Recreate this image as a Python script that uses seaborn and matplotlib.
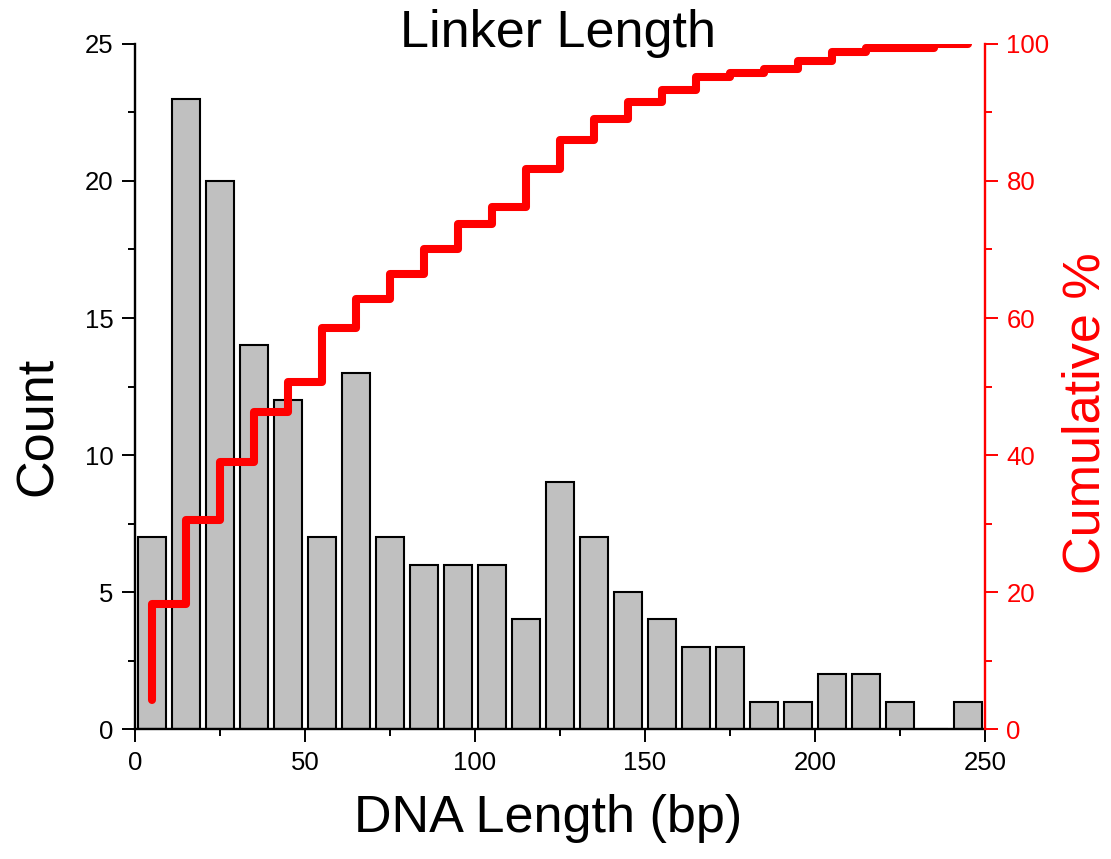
import numpy as np
import pandas as pd
import matplotlib
matplotlib.use('Agg')
import matplotlib.pyplot as plt
import matplotlib.ticker as ticker
import seaborn as sns

# Datos: centro de cada intervalo (bp) y numero de linkers
bin_centers = [5, 15, 25, 35, 45, 55, 65, 75, 85, 95, 105, 115, 125,
               135, 145, 155, 165, 175, 185, 195, 205, 215, 225, 235, 245]
counts = [7, 23, 20, 14, 12, 7, 13, 7, 6, 6, 6, 4, 9,
          7, 5, 4, 3, 3, 1, 1, 2, 2, 1, 0, 1]
bin_edges = list(range(0, 251, 10))

df = pd.DataFrame({'length': bin_centers, 'count': counts})
df['cum_pct'] = df['count'].cumsum() / df['count'].sum() * 100

sns.set_style('ticks', {'axes.edgecolor': 'black', 'text.color': 'black',
                        'axes.labelcolor': 'black', 'xtick.color': 'black',
                        'ytick.color': 'black'})
plt.rcParams['font.family'] = ['Liberation Sans', 'DejaVu Sans']

fig = plt.figure(figsize=(11.11, 8.59), dpi=100)
ax = fig.add_axes([0.1215, 0.1513, 0.765, 0.7975])

sns.histplot(data=df, x='length', weights='count', bins=bin_edges, shrink=0.8,
             color='#c0c0c0', edgecolor='black', linewidth=1.5, alpha=1, ax=ax)
ax.set_xlim(0, 250)
ax.set_ylim(0, 25)
ax.xaxis.set_major_locator(ticker.MultipleLocator(50))
ax.xaxis.set_minor_locator(ticker.MultipleLocator(25))
ax.yaxis.set_major_locator(ticker.MultipleLocator(5))
ax.yaxis.set_minor_locator(ticker.MultipleLocator(2.5))
ax.tick_params(which='major', length=9.5, width=1.4, labelsize=18.5, pad=6,
               colors='black')
ax.tick_params(which='minor', length=5, width=1.4, colors='black')
for side in ['top', 'right']:
    ax.spines[side].set_visible(False)
for side in ['left', 'bottom']:
    ax.spines[side].set_linewidth(1.7)

ax.set_xlabel('DNA Length (bp)', fontsize=37.5, color='black')
ax.xaxis.label.set_va('baseline')
ax.xaxis.set_label_coords(0.493, 1 - 832 / 859, transform=fig.transFigure)
ax.set_ylabel('Count', fontsize=37.5, color='black')
ax.yaxis.label.set_va('baseline')
ax.yaxis.set_label_coords(52 / 1111, 1 - 426 / 859, transform=fig.transFigure)

# Curva acumulada en el eje derecho
ax2 = ax.twinx()
sns.lineplot(data=df, x='length', y='cum_pct', color='red', linewidth=5.8,
             drawstyle='steps-pre', ax=ax2)
ax2.set_ylim(0, 100)
ax2.yaxis.set_major_locator(ticker.MultipleLocator(20))
ax2.yaxis.set_minor_locator(ticker.MultipleLocator(10))
ax2.tick_params(which='major', length=9.5, width=1.4, labelsize=18.5, pad=6,
                colors='red')
ax2.tick_params(which='minor', length=5, width=1.4, colors='red')
for side in ['top', 'left', 'bottom']:
    ax2.spines[side].set_visible(False)
ax2.spines['right'].set_color('red')
ax2.spines['right'].set_linewidth(1.7)
ax2.set_ylabel('Cumulative %', fontsize=37.5, color='red')
ax2.yaxis.label.set_va('baseline')
ax2.yaxis.set_label_coords(1100 / 1111, 1 - 413 / 859, transform=fig.transFigure)

fig.suptitle('Linker Length', fontsize=37.5, x=558 / 1111, y=1 - 47 / 859,
             va='baseline', color='black')

fig.savefig('out.png', dpi=100)
